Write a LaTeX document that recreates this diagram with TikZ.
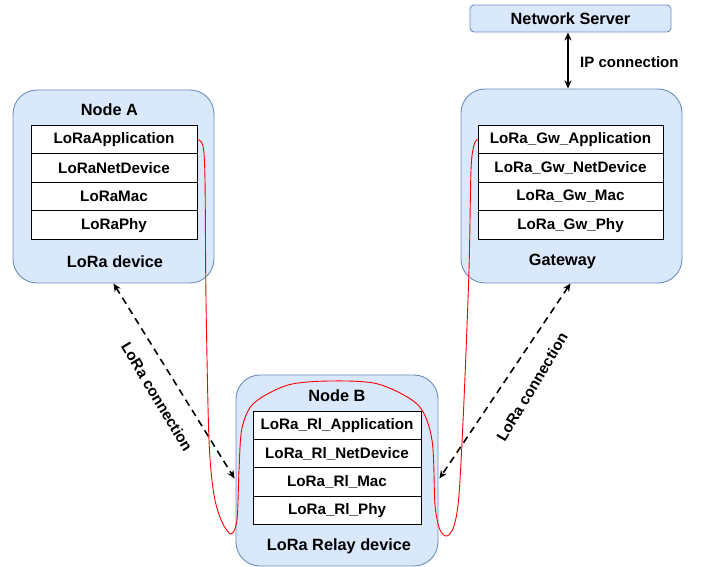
\documentclass[tikz,border=0pt]{standalone}
\usepackage{fontspec}
\setmainfont{Liberation Sans}
\usetikzlibrary{arrows.meta,calc}
\definecolor{boxfill}{HTML}{DAE8FC}
\definecolor{boxline}{HTML}{6C8EBF}
\begin{document}
\begin{tikzpicture}[x=1pt,y=-1pt,
  font=\fontsize{15.2}{18}\selectfont\bfseries,
  container/.style={draw=boxline,fill=boxfill,line width=0.9pt,rounded corners=24pt,inner sep=0pt},
  server/.style={draw=boxline,fill=boxfill,line width=0.9pt,rounded corners=4pt,inner sep=0pt,minimum width=201pt,minimum height=27pt,font=\fontsize{16.3}{19}\selectfont\bfseries},
  layer/.style={draw=black,fill=white,line width=0.9pt,inner sep=0pt,minimum height=28.6pt},
  lbl/.style={inner sep=1pt},
  ttl/.style={inner sep=1pt,font=\fontsize{16.3}{19}\selectfont\bfseries},
  lora/.style={line width=1.6pt,dash pattern=on 7pt off 5pt,{Stealth[length=8pt,width=7pt]}-{Stealth[length=8pt,width=7pt]}},
  ip/.style={line width=1.5pt,{Stealth[length=8pt,width=7pt]}-{Stealth[length=8pt,width=7pt]}},
  redline/.style={draw=red,line width=0.9pt}
]
\useasboundingbox (0,0) rectangle (702,567);

% containers
\node[container,minimum width=201pt,minimum height=193pt] (nA) at (113.5,186.5) {};
\node[container,minimum width=221pt,minimum height=194pt] (gw) at (571.5,186) {};
\node[container,minimum width=202pt,minimum height=191pt] (nB) at (337,470.5) {};
\node[server] (ns) at (570.5,18.5) {Network Server};

% Node A
\node[ttl] (tA) at (109.5,110) {Node A};
\node[layer,minimum width=166pt] (appA) at (114,139.4) {LoRaApplication};
\node[layer,minimum width=166pt] (netA) at (114,168) {LoRaNetDevice};
\node[layer,minimum width=166pt] (macA) at (114,196.6) {LoRaMac};
\node[layer,minimum width=166pt] (phyA) at (114,225.2) {LoRaPhy};
\node[ttl] (bA) at (115,262) {LoRa device};

% Gateway
\node[layer,minimum width=185pt] (appG) at (570.5,139.4) {LoRa\_Gw\_Application};
\node[layer,minimum width=185pt] (netG) at (570.5,168) {LoRa\_Gw\_NetDevice};
\node[layer,minimum width=185pt] (macG) at (570.5,196.6) {LoRa\_Gw\_Mac};
\node[layer,minimum width=185pt] (phyG) at (570.5,225.2) {LoRa\_Gw\_Phy};
\node[ttl] (bG) at (562.5,262) {Gateway};

% Node B
\node[ttl] (tB) at (337,396) {Node B};
\node[layer,minimum width=168pt,minimum height=28.3pt] (appB) at (337,425.2) {LoRa\_Rl\_Application};
\node[layer,minimum width=168pt,minimum height=28.3pt] (netB) at (337,453.5) {LoRa\_Rl\_NetDevice};
\node[layer,minimum width=168pt,minimum height=28.3pt] (macB) at (337,481.8) {LoRa\_Rl\_Mac};
\node[layer,minimum width=168pt,minimum height=28.3pt] (phyB) at (337,510.1) {LoRa\_Rl\_Phy};
\node[ttl] (bB) at (339,546) {LoRa Relay device};

% IP connection
\coordinate (ipx) at (568,0);
\draw[ip] (ns.south -| ipx) -- (gw.north -| ipx);
\node[lbl,font=\fontsize{15}{18}\selectfont\bfseries,anchor=west] (iplbl) at (579,62) {IP connection};

% LoRa connections
\draw[lora] (nA.south) -- ($(nB.west)+(-1,8)$);
\draw[lora] ($(gw.south)+(-1,0)$) -- ($(nB.east)+(1,8)$);
\node[lbl,rotate=-59] (l1) at (157,397) {LoRa connection};
\node[lbl,rotate=59] (l2) at (532,387) {LoRa connection};

% red path
\draw[redline] plot[smooth,tension=0.5] coordinates {(appA.east) (203,146) (205,180) (206,300) (209,440) (214,495) (222,522) (231,534) (237,520) (239,470) (242,428) (254,403) (288,385) (330,381) (378,384) (418,405) (432,440) (435,505) (440,530) (447,536) (454,526) (459,495) (464,400) (469,270) (471,170) (474,145) (appG.west)};
\end{tikzpicture}
\end{document}
